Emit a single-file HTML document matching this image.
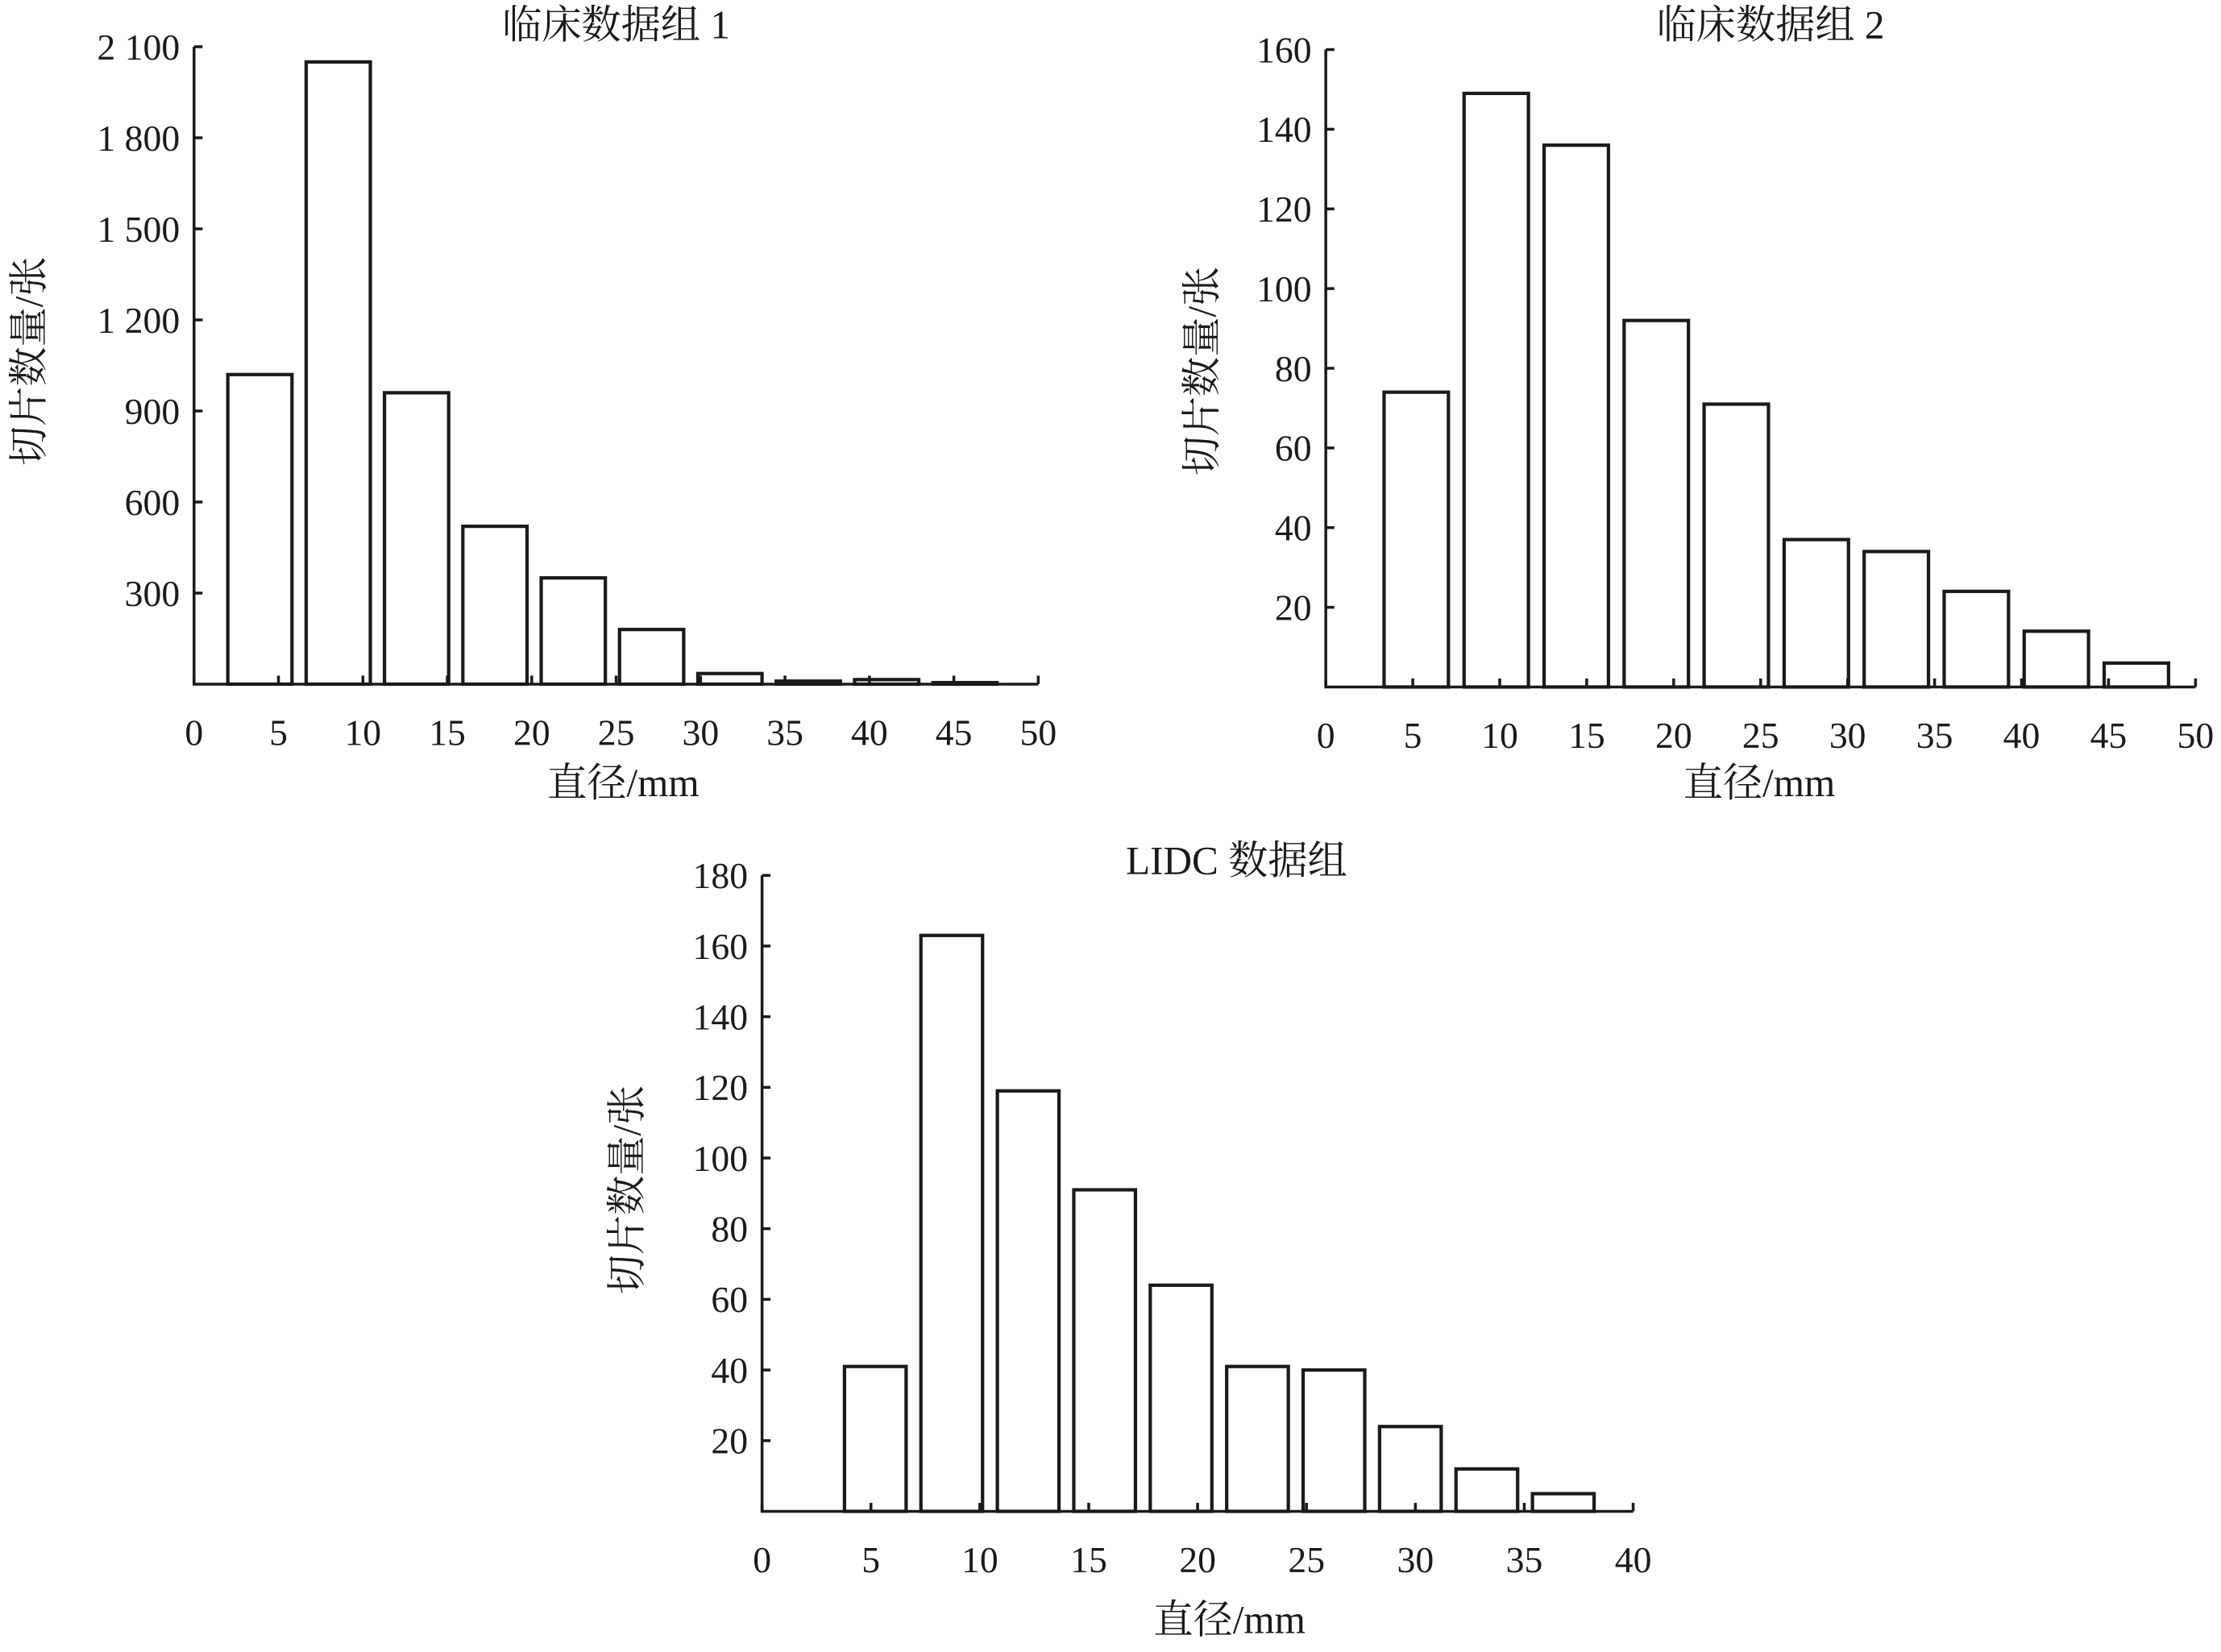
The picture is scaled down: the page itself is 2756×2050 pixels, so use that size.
<!DOCTYPE html>
<html><head><meta charset="utf-8"><style>
html,body{margin:0;padding:0;background:#fff;}
svg{display:block;}
text{font-family:"Liberation Serif","Noto Serif CJK SC",serif;fill:#1a1a1a;}
</style></head><body>
<svg id="fig" width="2756" height="2050" viewBox="0 0 1568 1166.3" preserveAspectRatio="none" xmlns="http://www.w3.org/2000/svg"></svg>
<script>
// Chart 1 data
const c1Values = [1020, 2050, 960, 520, 350, 180, 35, 10, 15, 5];
const c1YTicks = [300, 600, 900, 1200, 1500, 1800, 2100];
const c1YLabels = ["300","600","900","1 200","1 500","1 800","2 100"];
const c1XTicks = [0,5,10,15,20,25,30,35,40,45,50];
// Chart 2 data
const c2Values = [74, 149, 136, 92, 71, 37, 34, 24, 14, 6];
const c2YTicks = [20,40,60,80,100,120,140,160];
const c2XTicks = [0,5,10,15,20,25,30,35,40,45,50];
// Chart 3 data
const c3Values = [41, 163, 119, 91, 64, 41, 40, 24, 12, 5];
const c3YTicks = [20,40,60,80,100,120,140,160,180];
const c3XTicks = [0,5,10,15,20,25,30,35,40];

const NS = "http://www.w3.org/2000/svg";
const svg = document.getElementById('fig');
function mk(tag, attrs, parent){
  const e = document.createElementNS(NS, tag);
  for (const k in attrs) e.setAttribute(k, attrs[k]);
  (parent||svg).appendChild(e);
  return e;
}
function chart(o){
  const g = mk('g', {});
  
  
  const x = v => o.x0 + (v - 0) / o.xMax * (o.x1 - o.x0);
  const y = v => o.y0 - v / o.yMax * (o.y0 - o.yTop);
  // bars
  o.values.forEach((v, i) => {
    const c = o.binStart + i * o.binStep;
    const r = mk('rect', {x: x(c - o.binW/2), y: y(v), width: x(c + o.binW/2) - x(c - o.binW/2), height: y(0) - y(v), fill: '#fff', stroke: '#1a1a1a', 'stroke-width': 2.4}, g);
    
    
  });
  // axes
  const ax = mk('path', {d: `M${x(0)},${y(o.yMax)} L${x(0)},${y(0)} L${x(o.xMax)},${y(0)}`, fill: 'none', stroke: '#1a1a1a', 'stroke-width': 2}, g);
  
  
  o.yTicks.forEach((t, i) => {
    mk('line', {x1: x(0), x2: x(0) + 6, y1: y(t), y2: y(t), stroke: '#1a1a1a', 'stroke-width': 2}, g);
    const tx = mk('text', {x: x(0) - 10, y: y(t) + 9, 'text-anchor': 'end', 'font-size': 26}, g);
    tx.textContent = o.yLabels ? o.yLabels[i] : String(t);
    
    
  });
  o.xTicks.forEach(t => {
    mk('line', {x1: x(t), x2: x(t), y1: y(0), y2: y(0) - 6, stroke: '#1a1a1a', 'stroke-width': 2}, g);
    const tx = mk('text', {x: x(t), y: y(0) + 43, 'text-anchor': 'middle', 'font-size': 26}, g);
    tx.textContent = String(t);
    
    
  });
  const tt = mk('text', {x: o.titleX, y: o.titleY, 'text-anchor': 'middle', 'font-size': 28}, g);
  tt.textContent = o.title;
  
  
  const xt = mk('text', {x: o.xtX, y: o.xtY, 'text-anchor': 'middle', 'font-size': 28}, g);
  xt.textContent = '直径/mm';
  
  
  const yt = mk('text', {x: 0, y: 0, 'text-anchor': 'middle', 'font-size': 28, transform: `translate(${o.ytX},${o.ytY}) rotate(-90)`}, g);
  yt.textContent = '切片数量/张';
  
  
}
chart({name:'chart-clinical-1', values:c1Values, yTicks:c1YTicks, yLabels:c1YLabels, xTicks:c1XTicks,
  x0:137, x1:733, y0:483, yTop:33, xMax:50, yMax:2100, binStart:3.9, binStep:4.64, binW:3.8,
  title:'临床数据组 1', titleX:435, titleY:27, xtX:440, xtY:562, ytX:30, ytY:255});
chart({name:'chart-clinical-2', values:c2Values, yTicks:c2YTicks, xTicks:c2XTicks,
  x0:936, x1:1550, y0:485, yTop:35, xMax:50, yMax:160, binStart:5.2, binStep:4.6, binW:3.7,
  title:'临床数据组 2', titleX:1250, titleY:27, xtX:1242, xtY:562, ytX:858, ytY:262});
chart({name:'chart-lidc', values:c3Values, yTicks:c3YTicks, xTicks:c3XTicks,
  x0:538, x1:1153, y0:1067, yTop:618, xMax:40, yMax:180, binStart:5.2, binStep:3.51, binW:2.83,
  title:'LIDC 数据组', titleX:873, titleY:617, xtX:868, xtY:1153, ytX:452, ytY:840});
</script>
</body></html>
